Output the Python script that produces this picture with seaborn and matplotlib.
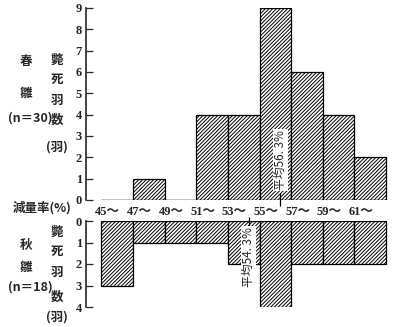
import numpy as np
import matplotlib
matplotlib.use("Agg")
import matplotlib.pyplot as plt
import seaborn as sns

bin_lefts = [45, 47, 49, 51, 53, 55, 57, 59, 61]
bin_labels = ["45～", "47～", "49～", "51～", "53～", "55～", "57～", "59～", "61～"]
spring_counts = [0, 1, 0, 4, 4, 9, 6, 4, 2]
autumn_counts = [3, 1, 1, 1, 2, 4, 2, 2, 2]
spring_mean = 56.3
autumn_mean = 54.3
spring_ticks = list(range(0, 10))
autumn_ticks = list(range(0, 5))

sns.set_style("ticks")
plt.rcParams['font.family'] = ['Liberation Serif', 'Noto Sans CJK JP', 'DejaVu Sans']
plt.rcParams['hatch.linewidth'] = 0.7
CJK = ['Noto Sans CJK JP', 'DejaVu Sans']

W, H = 393, 327
fig = plt.figure(figsize=(W / 100, H / 100), dpi=100)

def box(x0, y_top, x1, y_bot):
    return [x0 / W, 1 - y_bot / H, (x1 - x0) / W, (y_bot - y_top) / H]

ax1 = fig.add_axes(box(86, 8, 390, 200))
ax2 = fig.add_axes(box(86, 221, 390, 307))

edges = bin_lefts + [bin_lefts[-1] + 2]
centers = [b + 1 for b in bin_lefts]

for ax, counts in ((ax1, spring_counts), (ax2, autumn_counts)):
    sns.histplot(x=centers, weights=counts, bins=edges, ax=ax, color='white',
                 edgecolor='black', linewidth=0.9, hatch='/////////', alpha=1.0)
    ax.set_xlim(44.02, 63.25)
    ax.set_xlabel('')
    ax.set_ylabel('')
    for s in ('top', 'right', 'bottom'):
        ax.spines[s].set_visible(False)
    ax.spines['left'].set_linewidth(1.2)
    ax.tick_params(axis='y', direction='in', length=5, width=0.9, pad=3, labelsize=9)

ax1.set_ylim(0, 9)
ax1.set_yticks(spring_ticks)
ax1.set_yticklabels([str(t) for t in spring_ticks], fontweight='bold', fontsize=9)
ax1.hlines(0, edges[0], edges[-1], color='black', linewidth=0.9)
ax1.set_xticks([b + 0.4 for b in bin_lefts])
ax1.set_xticklabels(bin_labels, fontsize=9, fontweight='bold')
ax1.tick_params(axis='x', length=0, pad=4)

ax2.set_ylim(4, 0)
ax2.set_yticks(autumn_ticks)
ax2.set_yticklabels([str(t) for t in autumn_ticks], fontweight='bold', fontsize=9)
ax2.set_xticks([])

# mean markers
ax1.vlines(spring_mean, -0.3, 0.35, color='black', linewidth=0.9, clip_on=False, zorder=6)
ax1.text(spring_mean, 0.45, "平均56. 3%", rotation=90, ha='center', va='bottom',
         fontsize=8.5, family=CJK, zorder=6,
         bbox=dict(facecolor='white', edgecolor='none', pad=0.8))
ax2.vlines(autumn_mean, -0.2, 0.25, color='black', linewidth=0.9, clip_on=False, zorder=6)
ax2.text(autumn_mean, 0.3, "平均54. 3%", rotation=90, ha='center', va='top',
         fontsize=8.5, family=CJK, zorder=6,
         bbox=dict(facecolor='white', edgecolor='none', pad=0.8))

def ftext(x, y, s, **kw):
    fig.text(x / W, 1 - y / H, s, ha='center', va='center', fontsize=9,
             family=CJK, fontweight='bold', **kw)

# upper left labels
ftext(26, 62, "春")
ftext(26, 93, "雛")
ftext(30, 118, "(n＝30)")
for ch, y in zip("斃死羽数", [60, 79, 100, 120]):
    ftext(57, y, ch)
ftext(57, 147, "(羽)")

# lower left labels
ftext(42, 208, "減量率(%)")
ftext(26, 245, "秋")
ftext(26, 267, "雛")
ftext(30, 287, "(n＝18)")
for ch, y in zip("斃死羽数", [232, 251, 272, 297]):
    ftext(57, y, ch)
ftext(57, 317, "(羽)")

fig.savefig("out.png", dpi=100)
